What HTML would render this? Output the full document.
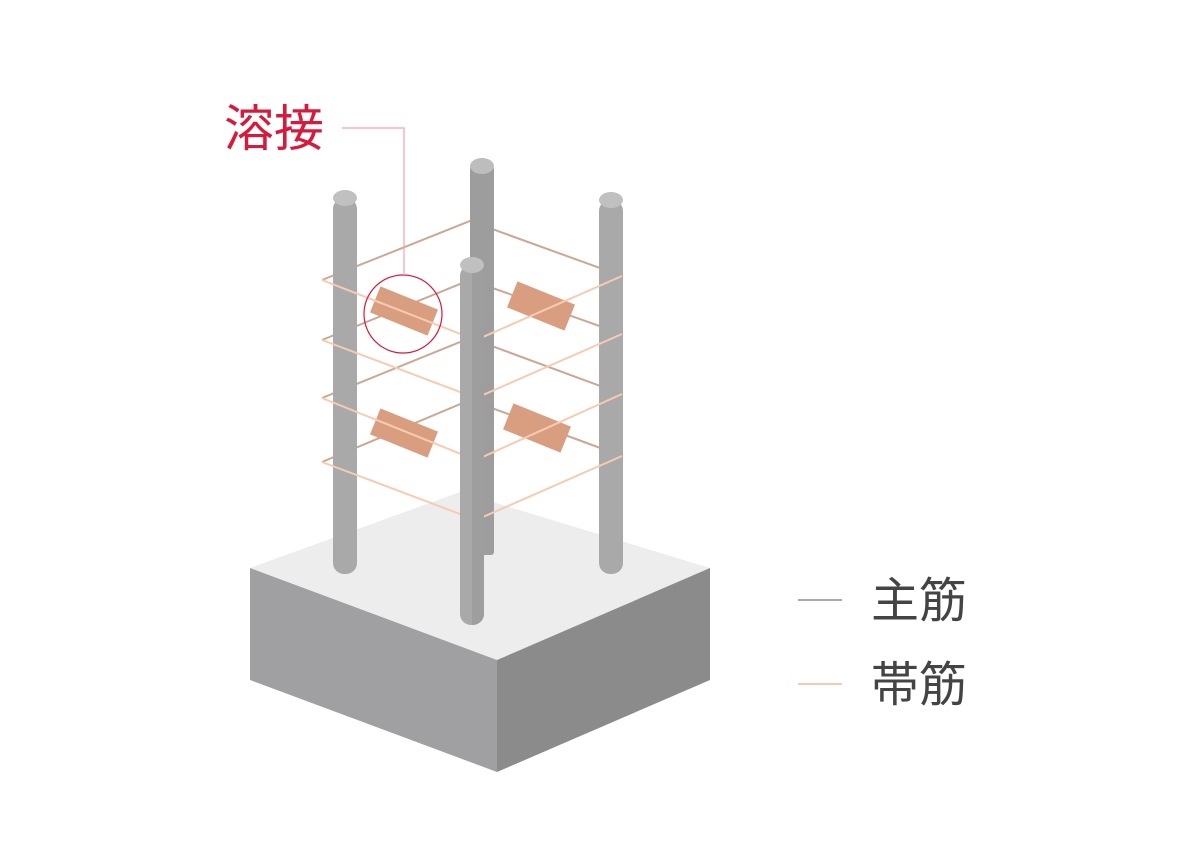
<!DOCTYPE html>
<html><head><meta charset="utf-8"><style>html,body{margin:0;padding:0;background:#fff}svg{display:block}</style></head>
<body>
<svg width="1191" height="842" viewBox="0 0 1191 842" xmlns="http://www.w3.org/2000/svg">
<polygon points="250,568 460,492 710,568 497,660" fill="#ededee"/>
<polygon points="250,568 497,660 497,772 250,680" fill="#a0a0a2"/>
<polygon points="497,660 710,568 710,680 497,772" fill="#8b8b8c"/>
<g stroke="#caa896" stroke-width="2" fill="none">
<polyline points="322,280 470,221 622,276"/>
<polyline points="322,340 470,280 622,334"/>
<polyline points="322,398 470,338 622,394"/>
<polyline points="322,462 470,400 622,456"/>
</g>
<rect x="470" y="166" width="24" height="389" rx="3" fill="#9d9d9e"/>
<ellipse cx="482" cy="166" rx="12" ry="8" fill="#bdbdbd"/>
<rect x="333" y="198" width="24" height="376" rx="11" fill="#a9a9aa"/>
<ellipse cx="345" cy="198" rx="12" ry="8" fill="#c0c0c0"/>
<rect x="599" y="200" width="24" height="374" rx="11" fill="#a9a9aa"/>
<ellipse cx="611" cy="200" rx="12" ry="8" fill="#c0c0c0"/>
<g fill="#d99e80">
<rect x="-31" y="-14" width="62" height="28" transform="translate(404,311) rotate(22)"/>
<rect x="-31" y="-14" width="62" height="28" transform="translate(541,306) rotate(22)"/>
<rect x="-31" y="-14" width="62" height="28" transform="translate(404,433) rotate(22)"/>
<rect x="-31" y="-14" width="62" height="28" transform="translate(537,428) rotate(22)"/>
</g>
<g stroke="#f7cbb2" stroke-width="2" fill="none">
<polyline points="322,280 476,340 622,276"/>
<polyline points="322,340 476,398 622,334"/>
<polyline points="322,398 476,460 622,394"/>
<polyline points="322,462 476,520 622,456"/>
</g>
<rect x="460" y="265" width="24" height="360" rx="11" fill="#a9a9aa"/>
<path d="M472,265 L484,265 L484,614 A12,11 0 0 1 472,625 Z" fill="#9e9e9f"/>
<ellipse cx="472" cy="265" rx="12" ry="8" fill="#c0c0c0"/>
<circle cx="403" cy="314" r="39" fill="none" stroke="#d7193c" stroke-width="1.2"/>
<polyline points="404,275 404,128 342,128" fill="none" stroke="#f2a0ad" stroke-width="1.2"/>
<text x="224" y="146" font-family="Liberation Sans, Noto Sans CJK JP, sans-serif" font-size="50" fill="#d7193c">溶接</text>
<line x1="798" y1="600" x2="842" y2="600" stroke="#aaaaaa" stroke-width="2"/>
<text x="871" y="617" font-family="Liberation Sans, Noto Sans CJK JP, sans-serif" font-size="48" fill="#444">主筋</text>
<line x1="798" y1="684" x2="842" y2="684" stroke="#f7cbb2" stroke-width="2"/>
<text x="871" y="701" font-family="Liberation Sans, Noto Sans CJK JP, sans-serif" font-size="48" fill="#444">帯筋</text>
</svg>
</body></html>
